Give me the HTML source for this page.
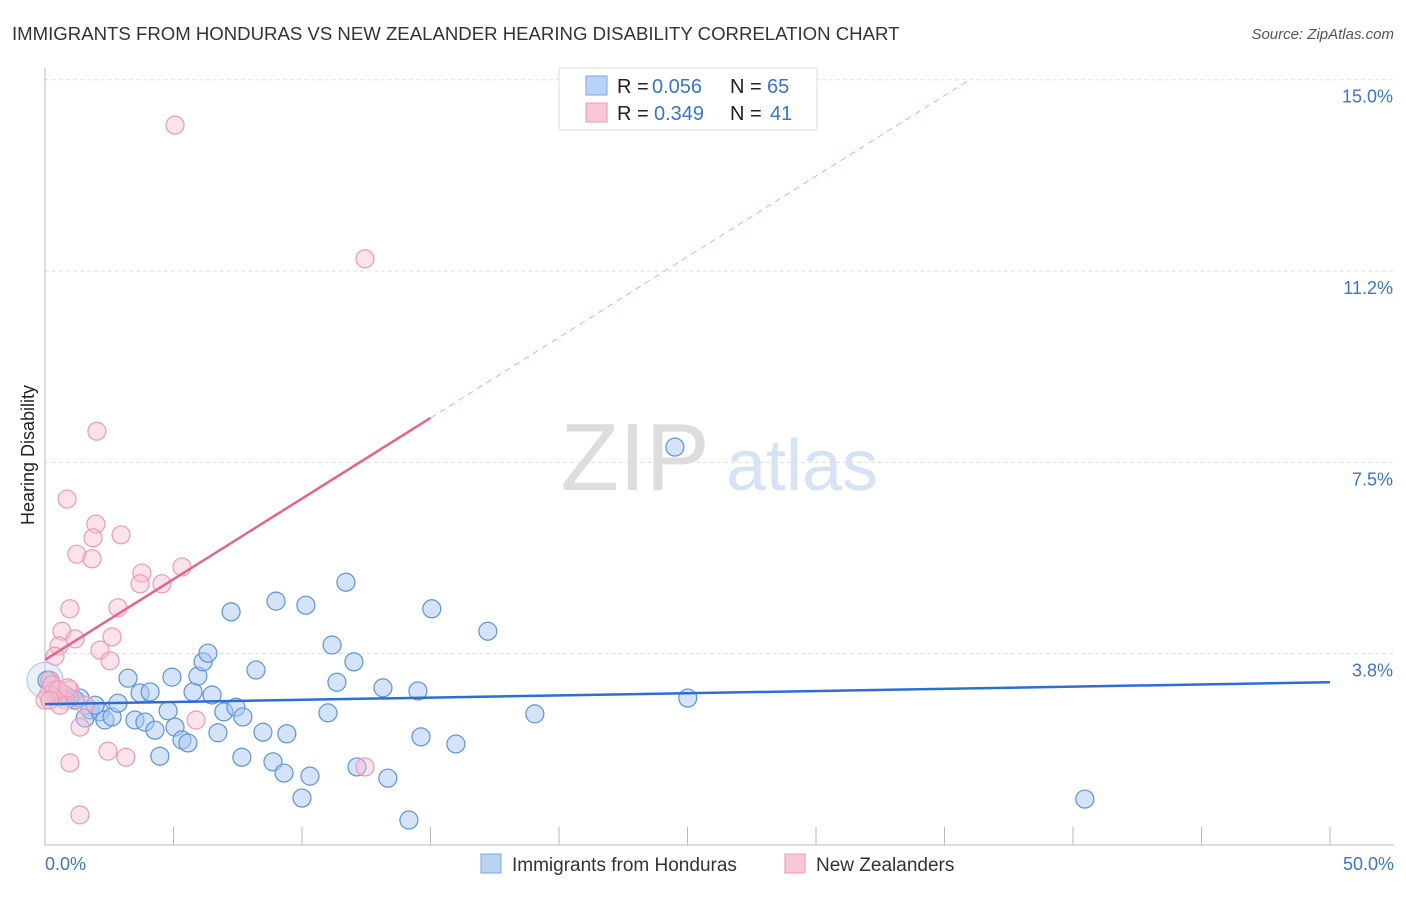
<!DOCTYPE html>
<html><head><meta charset="utf-8"><style>
body{margin:0;background:#fff;font-family:"Liberation Sans",sans-serif;}
svg text{font-family:"Liberation Sans",sans-serif;}
</style></head><body>
<svg width="1406" height="892" xmlns="http://www.w3.org/2000/svg">
<text x="12" y="40" font-size="18.6" fill="#333">IMMIGRANTS FROM HONDURAS VS NEW ZEALANDER HEARING DISABILITY CORRELATION CHART</text>
<text x="1394" y="39" font-size="15" fill="#555" font-style="italic" text-anchor="end">Source: ZipAtlas.com</text>
<g><text x="635" y="490" font-size="96" fill="#ddd" font-family="Liberation Serif" text-anchor="middle">ZIP</text><text x="802" y="490" font-size="72" fill="#d6e3f5" text-anchor="middle">atlas</text></g>
<g id="grid"></g><g id="axes"></g><g id="pts"></g><g id="lines"></g>
<text transform="translate(34,455) rotate(-90)" font-size="18" fill="#222" text-anchor="middle">Hearing Disability</text>
<g>
<rect x="559" y="68" width="258" height="62" fill="#fff" stroke="#ddd"/>
<rect x="586" y="76" width="21" height="19" fill="#b9d3f5" stroke="#7aa6e6"/>
<text x="617" y="93" font-size="20" fill="#222">R =</text><text x="652" y="93" font-size="20" fill="#3a74d0">0.056</text>
<text x="730" y="93" font-size="20" fill="#222">N =</text><text x="767" y="93" font-size="20" fill="#3a74d0">65</text>
<rect x="586" y="103" width="21" height="19" fill="#f9c8d6" stroke="#ee9ab4"/>
<text x="617" y="120" font-size="20" fill="#222">R =</text><text x="654" y="120" font-size="20" fill="#3a74d0">0.349</text>
<text x="730" y="120" font-size="20" fill="#222">N =</text><text x="770" y="120" font-size="20" fill="#3a74d0">41</text>
</g>
<g>
<rect x="481" y="854" width="20" height="19" fill="#b9d3f5" stroke="#7aa6e6"/>
<text x="512" y="871" font-size="19" fill="#333">Immigrants from Honduras</text>
<rect x="785" y="854" width="20" height="19" fill="#f9c8d6" stroke="#ee9ab4"/>
<text x="816" y="871" font-size="19" fill="#333">New Zealanders</text>
</g>
</svg>
<script>
const xTicks=[0,5,10,15,20,25,30,35,40,45,50];
const yTicks=[3.75,7.5,11.25,15];
const yTickLabels=["3.8%","7.5%","11.2%","15.0%"];
const blueX=[0.19,0.39,0.58,0.78,0.97,1.36,1.75,1.56,2.14,2.33,2.61,2.84,3.23,3.50,3.70,3.89,4.09,4.28,4.47,4.79,4.94,5.06,5.33,5.56,5.76,5.95,6.15,6.34,6.50,6.73,6.96,7.24,7.43,7.66,7.70,8.21,8.48,8.87,8.99,9.30,9.41,10.00,10.15,10.31,11.01,11.17,11.36,11.71,12.02,12.14,13.15,13.34,14.16,14.51,14.63,15.05,15.99,17.23,19.06,24.51,25.01,40.46,0.08,1.17,1.95];
const blueY=[3.23,2.94,2.90,2.94,2.88,2.88,2.65,2.49,2.61,2.45,2.51,2.78,3.27,2.45,2.98,2.41,3.00,2.25,1.74,2.63,3.29,2.31,2.06,2.00,3.00,3.31,3.59,3.76,2.94,2.20,2.61,4.57,2.70,1.72,2.51,3.43,2.21,1.63,4.78,1.41,2.18,0.92,4.70,1.35,2.59,3.92,3.19,5.15,3.59,1.53,3.08,1.31,0.49,3.02,2.12,4.63,1.98,4.19,2.57,7.80,2.88,0.90,3.23,2.84,2.74];
const pinkX=[5.06,12.45,2.02,0.86,1.98,1.87,2.96,1.24,1.83,5.33,3.77,3.70,4.55,2.84,0.97,0.66,2.61,1.17,0.54,0.39,2.14,2.53,0.19,0.39,0.97,0.78,0.58,0.12,1.56,1.36,5.88,2.45,3.15,0.97,12.45,1.36,0.27,0.51,0,0.89,0.19];
const pinkY=[14.11,11.49,8.11,6.78,6.29,6.02,6.08,5.70,5.61,5.45,5.33,5.12,5.12,4.65,4.63,4.19,4.08,4.04,3.90,3.70,3.82,3.61,3.23,3.04,3.04,2.84,2.74,2.94,2.74,2.31,2.45,1.84,1.72,1.61,1.53,0.59,3.14,3.04,2.84,3.08,2.84];
const blueTrend=[2.76,3.19];
const pinkTrend=[3.63,0.316];
const X=v=>45+v*25.7, Y=v=>845-v*51.02;
const NS="http://www.w3.org/2000/svg";
function mk(t,a,p){const e=document.createElementNS(NS,t);for(const k in a)e.setAttribute(k,a[k]);p.appendChild(e);return e;}
const grid=document.getElementById('grid'),axes=document.getElementById('axes'),pts=document.getElementById('pts'),lines=document.getElementById('lines');
yTicks.forEach((v,i)=>{
 const l=mk('line',{x1:45,x2:1394,y1:Y(v),y2:Y(v),stroke:'#ddd','stroke-dasharray':'4,3'},grid);
 
 
 const t=mk('text',{x:1393,y:Y(v)+23,'font-size':18,fill:'#3a74d0','text-anchor':'end'},axes);t.textContent=yTickLabels[i];
 
 
});
const ax=mk('line',{x1:45,x2:45,y1:68,y2:845,stroke:'#bbb'},axes);


const bx=mk('line',{x1:45,x2:1394,y1:845,y2:845,stroke:'#bbb'},axes);


xTicks.forEach(v=>{const l=mk('line',{x1:X(v),x2:X(v),y1:827,y2:845,stroke:'#bbb'},axes);
 
 });
[[0,"0.0%",45,'start'],[50,"50.0%",1394,'end']].forEach(d=>{const t=mk('text',{x:d[2],y:870,'font-size':18,fill:'#3a74d0','text-anchor':d[3]},axes);t.textContent=d[1];
 
 });
const big=mk('circle',{cx:X(0),cy:Y(3.23),r:18,fill:'rgba(185,211,245,0.35)',stroke:'#a9c6ef'},pts);


blueX.forEach((v,i)=>{const c=mk('circle',{cx:X(v),cy:Y(blueY[i]),r:9,fill:'rgba(170,200,242,0.5)',stroke:'#5b93e0','stroke-width':1.2},pts);
 
 });
pinkX.forEach((v,i)=>{const c=mk('circle',{cx:X(v),cy:Y(pinkY[i]),r:9,fill:'rgba(248,190,208,0.45)',stroke:'#ee9ab4','stroke-width':1.2},pts);
 
 });
const bl=mk('line',{x1:X(0),y1:Y(blueTrend[0]),x2:X(50),y2:Y(blueTrend[1]),stroke:'#2a6fd6','stroke-width':2.5},lines);


const pl=mk('line',{x1:X(0),y1:Y(pinkTrend[0]),x2:X(15),y2:Y(pinkTrend[0]+15*pinkTrend[1]),stroke:'#e8628f','stroke-width':2.5},lines);


const xe=(15.0-pinkTrend[0])/pinkTrend[1];
const pd=mk('line',{x1:X(15),y1:Y(pinkTrend[0]+15*pinkTrend[1]),x2:X(xe),y2:Y(15.0),stroke:'#eeaabf','stroke-width':1,'stroke-dasharray':'6,5'},lines);


</script>
</body></html>
